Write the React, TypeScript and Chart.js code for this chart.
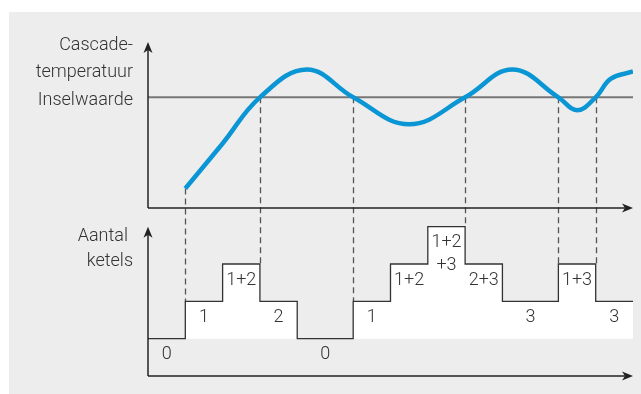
import React, { useEffect, useRef } from "react";
import { Chart, registerables } from "chart.js";

Chart.register(...registerables);

// ---- data ----
const curveTime = [1, 2, 3, 4.26, 5.5, 7.0, 8.5, 9.76, 11, 11.5, 12, 12.4, 13];
const curveTemp = [10.6, 35, 60, 75.1, 60, 45.4, 60, 75.1, 60, 53, 60, 70, 74];
const setpoint = 60;
const stepTime = [0, 1, 2, 3, 4, 5.5, 6.5, 7.5, 8.5, 9.5, 11, 12, 13];
const boilerCount = [0, 1, 2, 1, 0, 1, 2, 3, 2, 1, 2, 1, 1];
const segmentLabels = ["0", "1", "1+2", "2", "0", "1", "1+2", "1+2\n+3", "2+3", "3", "1+3", "3"];
const switchTimes = [1, 3, 5.5, 8.5, 11, 12];
const tempAxisLabels = ["Cascade-", "temperatuur", "Inselwaarde"];
const countAxisLabels = ["Aantal", "ketels"];

const TEXT = "#333333";
const AXIS = "#222222";
const FONT = "300 18px Roboto, 'Noto Sans', sans-serif";

function drawArrow(ctx: CanvasRenderingContext2D, x1: number, y1: number, x2: number, y2: number) {
  const ang = Math.atan2(y2 - y1, x2 - x1);
  const L = 11, W = 4.5, notch = 3;
  ctx.beginPath();
  ctx.moveTo(x1, y1);
  ctx.lineTo(x2 - Math.cos(ang) * (L - notch), y2 - Math.sin(ang) * (L - notch));
  ctx.stroke();
  ctx.save();
  ctx.translate(x2, y2);
  ctx.rotate(ang);
  ctx.beginPath();
  ctx.moveTo(0, 0);
  ctx.lineTo(-L, -W);
  ctx.lineTo(-L + notch, 0);
  ctx.lineTo(-L, W);
  ctx.closePath();
  ctx.fill();
  ctx.restore();
}

const diagramPlugin = {
  id: "diagram",
  beforeDatasetsDraw(chart: any) {
    const { ctx, scales } = chart;
    const x = scales.x, yT = scales.yT, yN = scales.yN;
    ctx.save();
    ctx.strokeStyle = "#555555";
    ctx.lineWidth = 1.3;
    ctx.setLineDash([6, 4]);
    for (const t of switchTimes) {
      const ci = curveTime.indexOf(t);
      const topVal = ci >= 0 ? curveTemp[ci] : setpoint;
      const si = stepTime.indexOf(t);
      const lvl = Math.max(boilerCount[si], boilerCount[Math.max(0, si - 1)]);
      const px = Math.round(x.getPixelForValue(t)) + 0.5;
      ctx.beginPath();
      ctx.moveTo(px, yT.getPixelForValue(topVal));
      ctx.lineTo(px, yN.getPixelForValue(lvl));
      ctx.stroke();
    }
    ctx.restore();
  },
  afterDatasetsDraw(chart: any) {
    const { ctx, scales } = chart;
    const x = scales.x, yT = scales.yT, yN = scales.yN;
    const left = x.left;
    ctx.save();
    ctx.strokeStyle = AXIS;
    ctx.fillStyle = AXIS;
    ctx.lineWidth = 1.5;
    // top panel axes
    drawArrow(ctx, left, yT.bottom, left, yT.top);
    drawArrow(ctx, left, yT.bottom, x.right, yT.bottom);
    // bottom panel axes
    const maxLvl = Math.max(...boilerCount);
    drawArrow(ctx, left, yN.bottom, left, yN.getPixelForValue(maxLvl));
    drawArrow(ctx, left, yN.bottom, x.right, yN.bottom);

    // texts
    ctx.fillStyle = TEXT;
    ctx.font = FONT;
    ctx.textBaseline = "middle";
    ctx.textAlign = "right";
    const ySet = yT.getPixelForValue(setpoint) + 3;
    tempAxisLabels.forEach((s, i) => {
      ctx.fillText(s, left - 15, ySet - (tempAxisLabels.length - 1 - i) * 27.5);
    });
    const tip = yN.getPixelForValue(maxLvl);
    ctx.fillText(countAxisLabels[0], left - 20, tip + 10);
    ctx.fillText(countAxisLabels[1], left - 15, tip + 35);

    ctx.textAlign = "center";
    segmentLabels.forEach((lab, i) => {
      const cx = x.getPixelForValue((stepTime[i] + stepTime[i + 1]) / 2);
      const cy = yN.getPixelForValue(boilerCount[i]) + 16;
      lab.split("\n").forEach((line, k) => ctx.fillText(line, cx, cy + k * 23));
    });
    ctx.restore();
  },
};

export default function App() {
  const ref = useRef<HTMLCanvasElement | null>(null);
  useEffect(() => {
    if (!ref.current) return;
    const chart = new Chart(ref.current, {
      type: "line",
      data: {
        datasets: [
          {
            label: "Cascadetemperatuur",
            data: curveTime.map((t, i) => ({ x: t, y: curveTemp[i] })),
            yAxisID: "yT",
            borderColor: "#0a96d4",
            borderWidth: 4.5,
            pointRadius: 0,
            tension: 0.4,
            borderCapStyle: "butt",
            fill: false,
          },
          {
            label: "Inselwaarde",
            data: [
              { x: stepTime[0], y: setpoint },
              { x: stepTime[stepTime.length - 1], y: setpoint },
            ],
            yAxisID: "yT",
            borderColor: "#777777",
            borderWidth: 2,
            pointRadius: 0,
            fill: false,
          },
          {
            label: "Aantal ketels",
            data: stepTime.map((t, i) => ({ x: t, y: boilerCount[i] })),
            yAxisID: "yN",
            stepped: true,
            borderColor: "#333333",
            borderWidth: 1.3,
            pointRadius: 0,
            backgroundColor: "#ffffff",
            fill: { value: 0 },
          },
        ],
      },
      options: {
        responsive: false,
        animation: false,
        devicePixelRatio: 1,
        events: [],
        layout: { padding: { left: 139, right: 8, top: 30, bottom: 18 } },
        plugins: { legend: { display: false }, tooltip: { enabled: false } },
        scales: {
          x: { type: "linear", min: 0, max: 13, display: false },
          yN: { type: "linear", position: "left", stack: "panels", stackWeight: 168, min: -1, max: 3.5, display: false },
          yT: { type: "linear", position: "left", stack: "panels", stackWeight: 166, min: 0, max: 90, display: false },
        },
      } as any,
      plugins: [diagramPlugin],
    });
    return () => chart.destroy();
  }, []);
  return (
    <div style={{ position: "absolute", left: 9, top: 12, width: 632, height: 382, background: "#ededed" }}>
      <canvas ref={ref} width={632} height={382} style={{ display: "block" }} />
    </div>
  );
}
